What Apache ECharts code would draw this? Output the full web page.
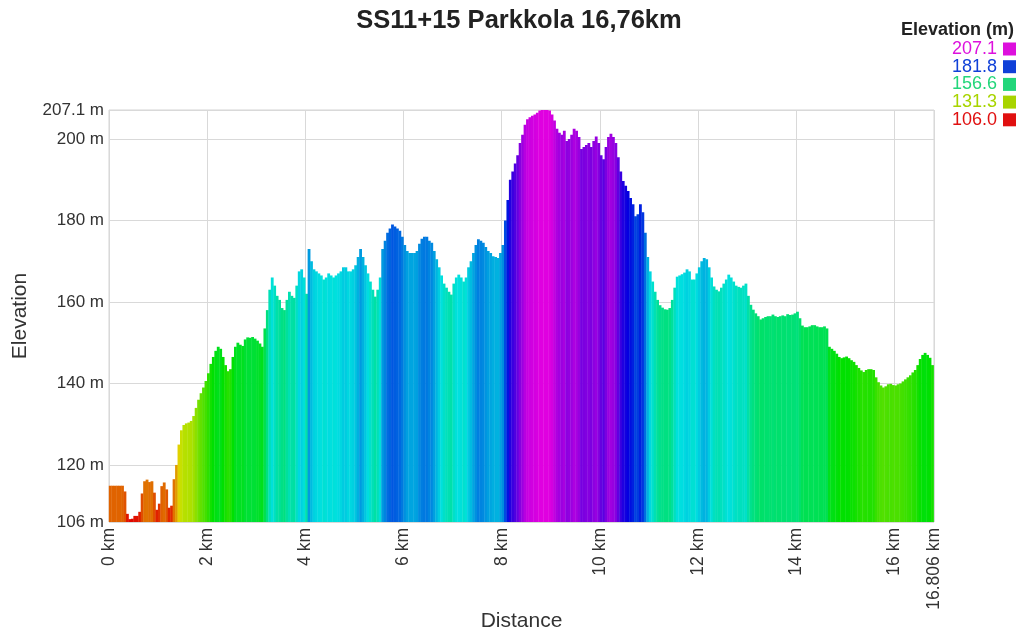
<!DOCTYPE html>
<html>
<head>
<meta charset="utf-8">
<title>SS11+15 Parkkola</title>
<script src="https://cdn.jsdelivr.net/npm/echarts@6/dist/echarts.min.js"></script>
<style>
  html, body { margin: 0; padding: 0; background: #fff; }
  #chart { width: 1024px; height: 631px; }
</style>
</head>
<body>
<div id="chart"></div>
<script>
// elevation profile: one value per 0.05 km cell
const titleText = 'SS11+15 Parkkola 16,76km';
const stepKm = 0.05;
const totalKm = 16.806;
const elevation = [
  114.9, 114.9, 114.9, 114.9, 114.9, 114.9, 113.5, 108.0, 106.7, 106.8,
  107.5, 107.5, 108.5, 113.0, 116.0, 116.4, 115.8, 116.0, 113.2, 109.0,
  110.5, 114.8, 115.7, 114.0, 109.5, 110.0, 116.5, 120.0, 125.0, 128.5,
  129.8, 130.2, 130.4, 130.8, 132.0, 134.0, 136.0, 137.6, 139.0, 140.6,
  142.5, 144.8, 146.5, 148.0, 149.0, 148.5, 146.5, 144.5, 143.0, 143.5,
  146.5, 149.0, 150.0, 149.5, 149.2, 150.8, 151.3, 151.2, 151.4, 151.0,
  150.5, 149.8, 149.0, 153.5, 158.0, 163.0, 166.0, 164.0, 161.5, 160.5,
  158.5, 158.0, 160.5, 162.5, 161.5, 161.0, 164.0, 167.5, 168.0, 166.0,
  162.0, 173.0, 170.0, 168.0, 167.5, 167.0, 166.5, 165.5, 166.0, 167.0,
  166.5, 166.0, 166.5, 167.0, 167.5, 168.5, 168.5, 167.5, 167.5, 168.0,
  169.0, 171.0, 173.0, 171.0, 169.0, 167.0, 165.0, 163.0, 161.3, 163.0,
  166.0, 173.0, 175.0, 177.0, 178.0, 179.0, 178.5, 178.0, 177.5, 176.0,
  174.0, 172.5, 172.0, 172.0, 172.0, 172.5, 174.3, 175.5, 176.0, 176.0,
  175.0, 174.5, 172.5, 170.5, 168.5, 166.5, 164.5, 163.5, 162.5, 161.8,
  164.5, 166.0, 166.7, 166.0, 165.0, 166.0, 168.5, 170.0, 172.0, 174.0,
  175.4, 175.0, 174.5, 173.5, 172.5, 172.0, 171.2, 171.0, 170.8, 172.0,
  174.0, 180.0, 185.0, 190.0, 192.0, 194.0, 196.0, 199.0, 201.0, 203.5,
  204.8, 205.3, 205.7, 206.0, 206.4, 207.0, 207.1, 207.1, 207.1, 207.0,
  206.0, 204.5, 202.5, 201.5, 201.0, 202.0, 199.5, 200.0, 201.0, 202.5,
  202.0, 200.5, 197.5, 198.0, 198.5, 199.0, 198.0, 199.5, 200.6, 199.0,
  196.0, 195.0, 198.0, 200.5, 201.3, 200.5, 199.0, 195.5, 192.0, 189.7,
  188.5, 187.2, 185.5, 184.0, 181.0, 181.5, 184.0, 182.0, 177.0, 171.0,
  167.5, 165.0, 162.5, 160.5, 159.2, 158.6, 158.2, 158.1, 158.5, 160.5,
  163.5, 166.2, 166.5, 166.8, 167.2, 168.0, 167.5, 165.5, 165.5, 167.0,
  168.5, 170.0, 170.8, 170.5, 168.5, 166.0, 163.8, 163.0, 162.6, 163.5,
  164.5, 165.5, 166.7, 166.0, 165.0, 164.0, 163.7, 163.5, 164.0, 164.5,
  161.5, 159.3, 158.1, 157.2, 156.5, 155.7, 156.0, 156.3, 156.5, 156.5,
  156.9, 156.5, 156.3, 156.5, 156.7, 156.5, 157.0, 156.8, 156.9, 157.2,
  157.6, 156.0, 154.2, 153.8, 153.8, 154.0, 154.3, 154.3, 154.0, 153.8,
  153.8, 154.0, 153.5, 149.0, 148.5, 148.0, 147.3, 146.5, 146.2, 146.4,
  146.6, 146.2, 145.7, 145.3, 144.5, 143.8, 143.2, 142.8, 143.3, 143.5,
  143.5, 143.3, 141.5, 140.3, 139.5, 139.0, 139.3, 139.8, 139.9, 139.6,
  139.5, 139.8, 140.0, 140.5, 141.0, 141.5, 142.0, 142.7, 143.3, 144.5,
  146.0, 147.0, 147.5, 147.0, 146.3, 144.5
];
const yTicks = [106, 120, 140, 160, 180, 200, 207.1];
const elevMin = 106;
const elevMax = 207.1;
const legendValues = ['207.1', '181.8', '156.6', '131.3', '106.0'];

// styles
const legendColors = ['#dd10dd', '#1040d8', '#22d67a', '#a8d400', '#e01010'];
const rampColors = ['#e00000', '#e07000', '#e0e000', '#70e000', '#00e000', '#00e070',
  '#00e0e0', '#0070e0', '#0000e0', '#7000e0', '#e000e0'];
const fontFamily = '"Liberation Sans", Arial, sans-serif';

// each value fills the cell [i*step, (i+1)*step], so the bar sits on the cell centre
const profile = elevation.map((v, i) => [+((i + 0.5) * stepKm).toFixed(3), v]);

const legendGraphics = [{
  type: 'text',
  x: 1014, y: 30,
  style: {
    text: 'Elevation (m)', fill: '#222', align: 'right', verticalAlign: 'middle',
    font: 'bold 18px ' + fontFamily
  }
}];
legendValues.forEach((label, i) => {
  const cy = 49 + i * 17.7;
  legendGraphics.push({
    type: 'text',
    x: 997, y: cy,
    style: {
      text: label, fill: legendColors[i], align: 'right', verticalAlign: 'middle',
      font: '18px ' + fontFamily
    }
  });
  legendGraphics.push({
    type: 'rect',
    shape: { x: 1003, y: cy - 6.5, width: 13, height: 13 },
    style: { fill: legendColors[i] }
  });
});

const chart = echarts.init(document.getElementById('chart'), null, { renderer: 'canvas' });
chart.setOption({
  animation: false,
  backgroundColor: '#fff',
  title: {
    text: titleText,
    left: 514,
    top: 3,
    textAlign: 'center',
    textStyle: { fontFamily: fontFamily, fontSize: 25.5, fontWeight: 'bold', color: '#222' }
  },
  grid: {
    left: 109, right: 90, top: 110, bottom: 109,
    containLabel: false,
    outerBoundsMode: 'none',
    show: true, borderColor: '#d4d4d4', borderWidth: 1
  },
  visualMap: {
    type: 'continuous',
    show: false,
    min: elevMin,
    max: elevMax,
    dimension: 1,
    seriesIndex: 0,
    inRange: { color: rampColors }
  },
  xAxis: {
    type: 'value',
    min: 0,
    max: totalKm,
    interval: 2,
    name: 'Distance',
    nameLocation: 'middle',
    nameGap: 89,
    nameMoveOverlap: false,
    nameTextStyle: { fontFamily: fontFamily, fontSize: 21, color: '#333' },
    axisLine: { show: false },
    axisTick: { show: false },
    axisLabel: {
      rotate: 90,
      margin: 6,
      fontFamily: fontFamily,
      fontSize: 17.5,
      color: '#333',
      showMinLabel: true,
      showMaxLabel: true,
      formatter: v => v + ' km'
    },
    splitLine: { show: true, lineStyle: { color: '#d9d9d9', width: 1 } }
  },
  yAxis: {
    type: 'value',
    min: elevMin,
    max: elevMax,
    name: 'Elevation',
    nameLocation: 'middle',
    nameGap: 78,
    nameMoveOverlap: false,
    nameTextStyle: { fontFamily: fontFamily, fontSize: 21, color: '#333' },
    axisLine: { show: false },
    axisTick: { show: false, customValues: yTicks },
    axisLabel: {
      customValues: yTicks,
      margin: 5,
      fontFamily: fontFamily,
      fontSize: 17,
      color: '#333',
      formatter: v => v + ' m'
    },
    splitLine: { show: true, customValues: yTicks, lineStyle: { color: '#d9d9d9', width: 1 } }
  },
  series: [{
    type: 'bar',
    data: profile,
    barCategoryGap: '0%',
    barWidth: '115%',
    clip: true,
    silent: true,
    itemStyle: { borderWidth: 0 },
    emphasis: { disabled: true }
  }],
  graphic: legendGraphics
});
</script>
</body>
</html>
